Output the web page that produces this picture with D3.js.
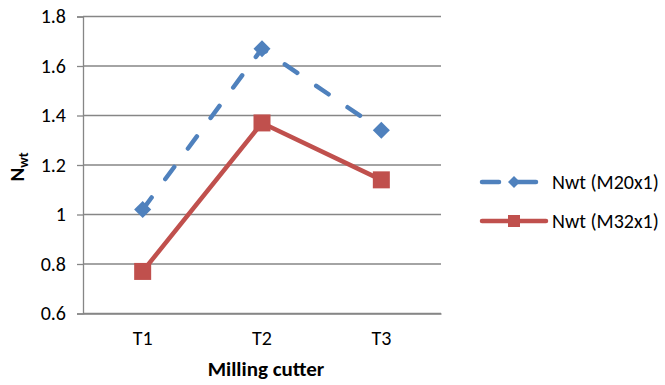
<!DOCTYPE html>
<html>
<head>
<meta charset="utf-8">
<script src="https://cdn.jsdelivr.net/npm/d3@7"></script>
<style>
  html, body { margin: 0; padding: 0; background: #fff; }
  svg { display: block; }
  text { font-family: Carlito, "Open Sans", "Liberation Sans", sans-serif; fill: #000; }
</style>
</head>
<body>
<div id="chart"></div>
<script>
const categories = ["T1", "T2", "T3"];
const seriesNames = ["Nwt (M20x1)", "Nwt (M32x1)"];
const m20Values = [1.02, 1.67, 1.34];
const m32Values = [0.77, 1.37, 1.14];
const yTicks = [0.6, 0.8, 1.0, 1.2, 1.4, 1.6, 1.8];

const W = 665, H = 385;
const plot = { left: 83, right: 441, top: 16.5, bottom: 313.5 };
const FONT = "Carlito, 'Open Sans', 'Liberation Sans', sans-serif";

const svg = d3.select("#chart").append("svg")
  .attr("width", W).attr("height", H);

const x = d3.scaleBand().domain(categories).range([plot.left, plot.right]).padding(0);
const y = d3.scaleLinear().domain([0.6, 1.8]).range([plot.bottom, plot.top]);
const cx = d => x(d) + x.bandwidth() / 2;

// horizontal gridlines
svg.append("g").selectAll("line").data(yTicks).join("line")
  .attr("x1", plot.left).attr("x2", plot.right)
  .attr("y1", d => y(d)).attr("y2", d => y(d))
  .attr("stroke", "#868686").attr("stroke-width", 1.3);

// y axis
const yAxis = d3.axisLeft(y).tickValues(yTicks).tickSize(6).tickPadding(11)
  .tickFormat(d => d3.format("")(+d.toFixed(1)));
const gy = svg.append("g").attr("transform", `translate(${plot.left},0)`).call(yAxis);
gy.select(".domain").attr("stroke", "#868686").attr("stroke-width", 1.3);
gy.selectAll(".tick line").attr("stroke", "#868686").attr("stroke-width", 1.3);
gy.selectAll(".tick text").style("font-size", "20px").style("font-family", FONT).attr("fill", "#000");

// x axis
const xAxis = d3.axisBottom(x).tickSize(0).tickPadding(17);
const gx = svg.append("g").attr("transform", `translate(0,${plot.bottom})`).call(xAxis);
gx.select(".domain").attr("stroke", "#868686").attr("stroke-width", 1.3);
gx.selectAll(".tick text").style("font-size", "20px").style("font-family", FONT).attr("fill", "#000");

// axis titles
svg.append("text")
  .attr("x", (plot.left + plot.right) / 2 + 4).attr("y", 376)
  .attr("text-anchor", "middle")
  .style("font-size", "21px").style("font-weight", "bold")
  .text("Milling cutter");

const yt = svg.append("text")
  .attr("transform", `translate(24,${(plot.top + plot.bottom) / 2 + 2}) rotate(-90)`)
  .attr("text-anchor", "middle")
  .style("font-size", "21px").style("font-weight", "bold");
yt.append("tspan").text("N");
yt.append("tspan").attr("dy", 4).style("font-size", "14px").text("wt");

const line = d3.line().x((d, i) => cx(categories[i])).y(d => y(d));

const blue = "#4f81bd", red = "#c0504d";

// M20x1 series: dashed with diamonds
svg.append("path").datum(m20Values)
  .attr("d", line).attr("fill", "none")
  .attr("stroke", blue).attr("stroke-width", 4.5)
  .attr("stroke-dasharray", "15,23").attr("stroke-linecap", "round");
svg.append("g").selectAll("path").data(m20Values).join("path")
  .attr("transform", (d, i) => `translate(${cx(categories[i])},${y(d)}) rotate(45)`)
  .attr("d", d3.symbol().type(d3.symbolSquare).size(145))
  .attr("fill", blue);

// M32x1 series: solid with squares
svg.append("path").datum(m32Values)
  .attr("d", line).attr("fill", "none")
  .attr("stroke", red).attr("stroke-width", 4.5).attr("stroke-linejoin", "round");
svg.append("g").selectAll("rect").data(m32Values).join("rect")
  .attr("x", (d, i) => cx(categories[i]) - 8.5).attr("y", d => y(d) - 8.5)
  .attr("width", 17).attr("height", 17).attr("fill", red);

// legend
const legend = svg.append("g");
const ly = [182, 221];
legend.append("line").attr("x1", 482).attr("x2", 499).attr("y1", ly[0]).attr("y2", ly[0])
  .attr("stroke", blue).attr("stroke-width", 4.5).attr("stroke-linecap", "round");
legend.append("line").attr("x1", 514).attr("x2", 536).attr("y1", ly[0]).attr("y2", ly[0])
  .attr("stroke", blue).attr("stroke-width", 4.5).attr("stroke-linecap", "round");
legend.append("path").attr("transform", `translate(514,${ly[0]}) rotate(45)`)
  .attr("d", d3.symbol().type(d3.symbolSquare).size(72)).attr("fill", blue);
legend.append("line").attr("x1", 482).attr("x2", 546).attr("y1", ly[1]).attr("y2", ly[1])
  .attr("stroke", red).attr("stroke-width", 4.5).attr("stroke-linecap", "round");
legend.append("rect").attr("x", 508).attr("y", ly[1] - 6).attr("width", 12).attr("height", 12).attr("fill", red);
legend.selectAll("text").data(seriesNames).join("text")
  .attr("x", 552).attr("y", (d, i) => ly[i]).attr("dy", "0.35em")
  .style("font-size", "20px").text(d => d);
</script>
</body>
</html>
